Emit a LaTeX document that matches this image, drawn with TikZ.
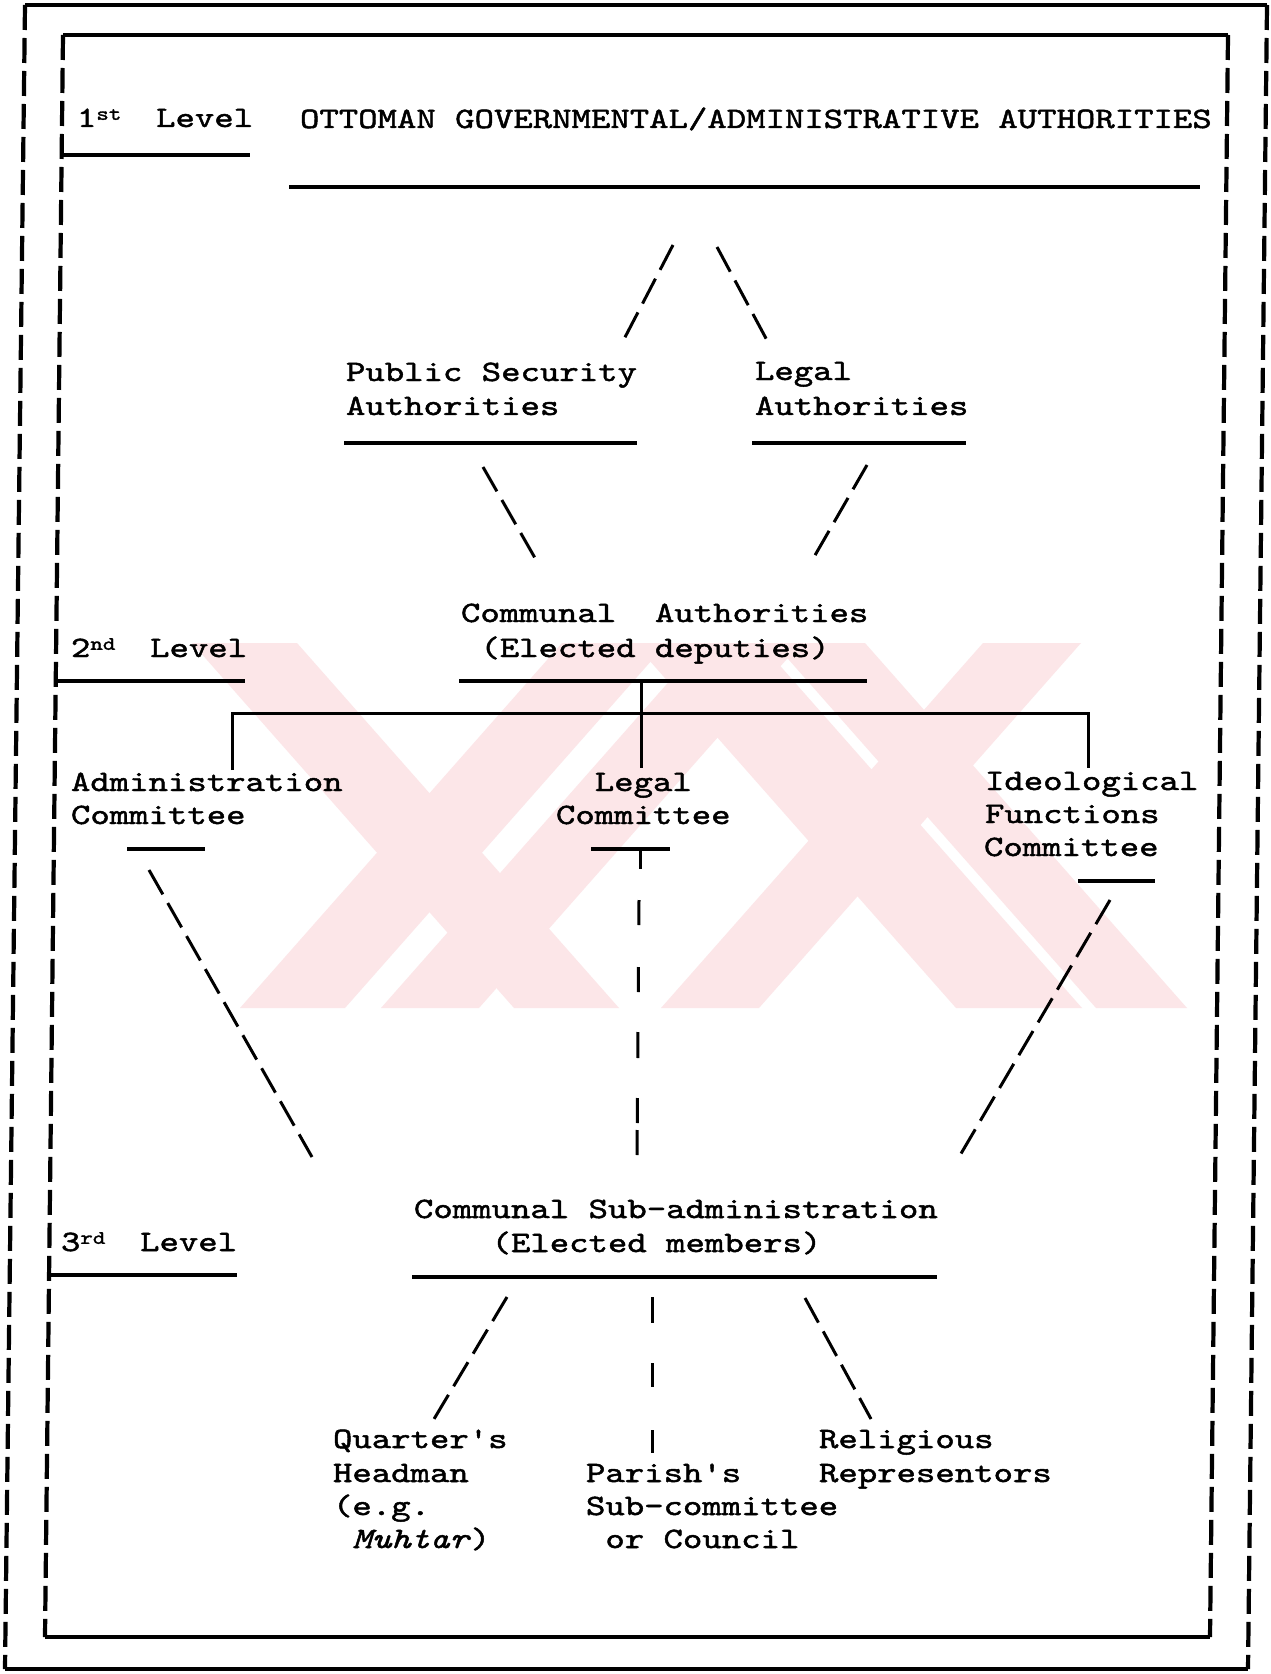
\documentclass[tikz,border=0pt]{standalone}
\usepackage{fontspec}
\newfontfamily\tw{lmmono10-regular.otf}[FakeStretch=1.25,FakeBold=1.6,ItalicFont=lmmono10-italic.otf]
\newcommand\chsp{\phantom{x}}
\newcommand\supx[1]{\raisebox{3.6pt}{\fontsize{9.5pt}{9.5pt}\selectfont #1}\hspace{-2pt}}
\definecolor{wmpink}{RGB}{252,230,232}
\begin{document}
\begin{tikzpicture}[x=0.5pt,y=-0.5pt,
  tx/.style={anchor=base west,inner sep=0pt,outer sep=0pt,font=\tw\fontsize{14.78pt}{17.25pt}\selectfont},
  bord/.style={line width=2pt},
  bordash/.style={line width=2.1pt,dash pattern=on 12.5pt off 4pt},
  urule/.style={line width=1.8pt},
  tree/.style={line width=1.5pt},
  sdash/.style={line width=1.5pt,dash pattern=on 14pt off 5pt},
  wm/.style={fill=wmpink,draw=none}]
\fill[white] (0,0) rectangle (1270,1674);
\useasboundingbox (0,0) rectangle (1270,1674);
% faint watermark
\begin{scope}
\clip (160,643) rectangle (1190,1008);
\fill[wm] (192,643) -- (297,643) -- (619,1008) -- (514,1008) -- cycle;
\fill[wm] (562,643) -- (667,643) -- (345,1008) -- (240,1008) -- cycle;
\fill[wm] (703,643) -- (801,643) -- (479,1008) -- (381,1008) -- cycle;
\fill[wm] (983,643) -- (1081,643) -- (759,1008) -- (661,1008) -- cycle;
\fill[wm] (634,643) -- (760,643) -- (1082,1008) -- (956,1008) -- cycle;
\fill[wm] (774,643) -- (865,643) -- (1187,1008) -- (1096,1008) -- cycle;
\end{scope}
% frames
\coordinate (oTL) at (25,5); \coordinate (oTR) at (1267,5);
\coordinate (oBR) at (1248,1669); \coordinate (oBL) at (5,1669);
\coordinate (iTL) at (63,35); \coordinate (iTR) at (1228,35);
\coordinate (iBR) at (1210,1637); \coordinate (iBL) at (45,1637);
\draw[bord] (oTL) -- (oTR);
\draw[bord] (oBL) -- (oBR);
\draw[bordash] (oTL) -- (oBL);
\draw[bordash] (oTR) -- (oBR);
\draw[bord] (iTL) -- (iTR);
\draw[bord] (iBL) -- (iBR);
\draw[bordash] (iTL) -- (iBL);
\draw[bordash] (iTR) -- (iBR);
% texts
\node[tx] (lv1) at (77,127) {1\supx{st}\chsp\chsp Level};
\node[tx] (otto) at (300,128) {OTTOMAN GOVERNMENTAL/ADMINISTRATIVE AUTHORITIES};
\node[tx] (ps1) at (346,381) {Public Security};
\node[tx] (ps2) at (346,415) {Authorities};
\node[tx] (la1) at (755,380) {Legal};
\node[tx] (la2) at (755,415) {Authorities};
\node[tx] (ca1) at (461,622) {Communal\chsp\chsp Authorities};
\node[tx] (ca2) at (461,657) {\chsp(Elected deputies)};
\node[tx] (lv2) at (71,657) {2\supx{nd}\chsp\chsp Level};
\node[tx] (ad1) at (71,791) {Administration};
\node[tx] (ad2) at (71,824) {Committee};
\node[tx] (lc1) at (556,791) {\chsp\chsp Legal};
\node[tx] (lc2) at (556,824) {Committee};
\node[tx] (id1) at (985,790) {Ideological};
\node[tx] (id2) at (985,823) {Functions};
\node[tx] (id3) at (984,856) {Committee};
\node[tx] (cs1) at (414,1218) {Communal Sub-administration};
\node[tx] (cs2) at (414,1252) {\chsp\chsp\chsp\chsp(Elected members)};
\node[tx] (lv3) at (61,1251) {3\supx{rd}\chsp\chsp Level};
\node[tx] (qh1) at (333,1448) {Quarter's};
\node[tx] (qh2) at (333,1482) {Headman};
\node[tx] (qh3) at (333,1515) {(e.g.};
\node[tx] (qh4) at (333,1548) {\chsp\textit{Muhtar})};
\node[tx] (pa1) at (586,1482) {Parish's};
\node[tx] (pa2) at (586,1515) {Sub-committee};
\node[tx] (pa3) at (586,1548) {\chsp or Council};
\node[tx] (re1) at (819,1448) {Religious};
\node[tx] (re2) at (819,1482) {Representors};
% underlines
\coordinate (u1a) at (62,155); \coordinate (u1b) at (250,155);
\coordinate (uoa) at (289,187); \coordinate (uob) at (1200,187);
\coordinate (psa) at (344,443); \coordinate (psb) at (637,443);
\coordinate (laa) at (752,443); \coordinate (lab) at (966,443);
\coordinate (caa) at (459,681); \coordinate (cab) at (867,681);
\coordinate (u2a) at (58,681); \coordinate (u2b) at (245,681);
\coordinate (ada) at (127,849); \coordinate (adb) at (205,849);
\coordinate (lca) at (591,849); \coordinate (lcb) at (670,849);
\coordinate (ida) at (1078,881); \coordinate (idb) at (1155,881);
\coordinate (csa) at (412,1277); \coordinate (csb) at (937,1277);
\coordinate (u3a) at (48,1275); \coordinate (u3b) at (237,1275);
\foreach \a/\b in {u1a/u1b,uoa/uob,psa/psb,laa/lab,caa/cab,u2a/u2b,ada/adb,lca/lcb,ida/idb,csa/csb,u3a/u3b}
  \draw[urule] (\a) -- (\b);
% dashed connectors
\coordinate (d1a) at (673,245); \coordinate (d1b) at (622,343);
\coordinate (d2a) at (717,247); \coordinate (d2b) at (769,344);
\coordinate (d3a) at (483,467); \coordinate (d3b) at (535,558);
\coordinate (d4a) at (867,465); \coordinate (d4b) at (814,557);
\coordinate (d5a) at (149,870); \coordinate (d5b) at (312,1157);
\coordinate (d6a) at (1110,900); \coordinate (d6b) at (959,1157);
\coordinate (d7a) at (507,1297); \coordinate (d7b) at (434,1419);
\coordinate (d8a) at (805,1298); \coordinate (d8b) at (871,1419);
\foreach \a/\b in {d1a/d1b,d2a/d2b,d3a/d3b,d4a/d4b,d5a/d5b,d6a/d6b,d7a/d7b,d8a/d8b}
  \draw[sdash] (\a) -- (\b);
% tree
\coordinate (ct) at (641,681); \coordinate (cb) at (641,768);
\coordinate (hbl) at (232,713); \coordinate (hbr) at (1088,713);
\coordinate (hdl) at (232,770); \coordinate (hdr) at (1088,768);
\draw[tree] (ct) -- (cb);
\draw[tree] (hdl) -- (hbl) -- (hbr) -- (hdr);
\coordinate (tka) at (640,849); \coordinate (tkb) at (640,869);
\draw[tree] (tka) -- (tkb);
\coordinate (vca) at (639,900); \coordinate (vcb) at (637,1155);
\draw[tree,dash pattern=on 12.5pt off 21pt on 12.5pt off 20pt on 13pt off 20pt on 12.5pt off 3.5pt on 12.5pt off 30pt] (vca) -- (vcb);
\coordinate (vla) at (652,1297); \coordinate (vlb) at (652,1453);
\draw[tree,dash pattern=on 13pt off 20pt on 12pt off 21.5pt on 11.5pt off 30pt] (vla) -- (vlb);
\end{tikzpicture}
\end{document}
